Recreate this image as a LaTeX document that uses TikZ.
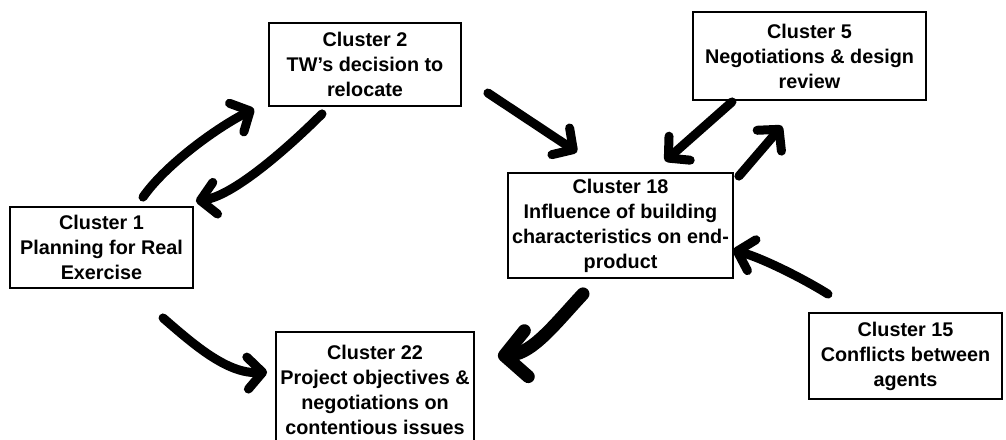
\documentclass[tikz,border=0pt]{standalone}
\usepackage{fontspec}
\setmainfont{Liberation Sans}
\usetikzlibrary{arrows.meta,calc}
\begin{document}
\begin{tikzpicture}[x=1pt,y=-1pt,
  cluster/.style={draw, line width=1.8pt, align=center, inner sep=0pt,
    font=\fontsize{19.8}{25}\selectfont\bfseries},
  link/.style={line width=9pt, line cap=round,
    -{Straight Barb[length=15pt,width=32pt,round]}},
  biglink/.style={line width=13pt, line cap=round,
    -{Straight Barb[length=22pt,width=46pt,round]}}]
\useasboundingbox[fill=white] (0,0) rectangle (1006,439);

% clusters
\node[cluster, minimum width=183pt, minimum height=81pt] (c1) at (101.5,247.5)
  {Cluster 1\\Planning for Real\\Exercise};
\node[cluster, minimum width=192pt, minimum height=83pt] (c2) at (365,64.5)
  {Cluster 2\\TW's decision to\\relocate};
\node[cluster, minimum width=233pt, minimum height=88pt] (c5) at (809.5,56)
  {Cluster 5\\Negotiations \& design\\review};
\node[cluster, minimum width=225pt, minimum height=105pt] (c18) at (620.5,225.5)
  {Cluster 18\\Influence of building\\characteristics on end-\\product};
\node[cluster, minimum width=198pt, minimum height=116pt] (c22) at (375,390)
  {Cluster 22\\Project objectives \&\\negotiations on\\contentious issues};
\node[cluster, minimum width=193pt, minimum height=86pt] (c15) at (905.5,356)
  {Cluster 15\\Conflicts between\\agents};

% links between clusters
\draw[link] ($(c1.north)+(41.5,-9)$) .. controls ($(c1.north)+(64.5,-42)$)
  and ($(c2.south west)+(-50,20)$) .. ($(c2.south west)+(-14,2)$);
\draw[link] ($(c2.south)+(-43,7)$) .. controls ($(c2.south)+(-71,35)$)
  and ($(c1.north east)+(42,-11)$) .. ($(c1.north east)+(2,-5)$);
\draw[link] ($(c2.east)+(26,28.5)$) -- ($(c18.north)+(-43.5,-20)$);
\draw[link] ($(c5.south)+(-77.5,1)$) -- ($(c18.north)+(44.5,-11)$);
\draw[link] ($(c18.north east)+(5,4)$) -- ($(c5.south)+(-27.5,25)$);
\draw[link] ($(c15.north)+(-77.5,-18)$) .. controls ($(c15.north)+(-103,-34)$)
  and ($(c18.east)+(28,32.5)$) .. ($(c18.east)+(-1,24.5)$);
\draw[biglink] ($(c18.south)+(-37.5,15)$) .. controls ($(c18.south)+(-64.5,44)$)
  and ($(c22.north east)+(58,22)$) .. ($(c22.north east)+(23,25)$);
\draw[link] ($(c1.south)+(61.5,29)$) .. controls ($(c1.south)+(91.5,55)$)
  and ($(c22.north west)+(-48,43)$) .. ($(c22.north west)+(-8,41)$);
\end{tikzpicture}
\end{document}
